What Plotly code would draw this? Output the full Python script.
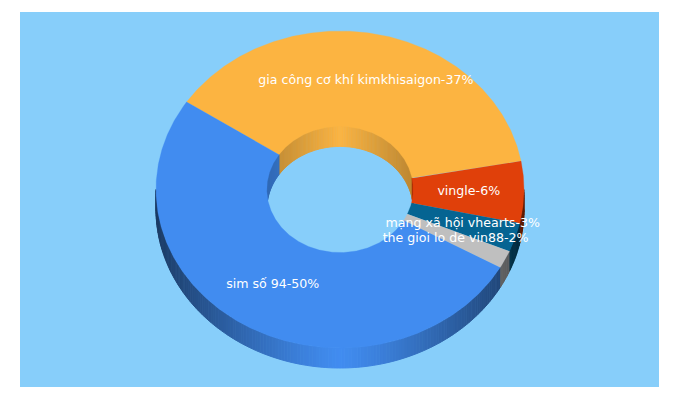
#!/usr/bin/env python3

import math

import plotly.graph_objects as go

labels = ['gia công cơ khí kimkhisaigon', 'vingle', 'mạng xã hội vhearts',
          'the gioi lo de vin88', 'sim số 94']
shares = [37.3, 6.2, 2.9, 1.8, 50.4]
shown_pct = [37, 6, 3, 2, 50]
colors = ['#FCB441', '#E0400A', '#056492', '#BFBFBF', '#418CF0']

START = -56.5
CX, CY = 340, 189.5
RX, RY = 184, 158.5
HOLE = 0.398
DEPTH = 20
STEP = 1


def point(angle, scale=1.0, drop=0):
    a = math.radians(angle)
    return (CX + RX * scale * math.sin(a),
            CY - RY * scale * math.cos(a) + drop)


def shade(color, factor):
    rgb = [int(color[i:i + 2], 16) for i in (1, 3, 5)]
    return 'rgb(%d,%d,%d)' % tuple(round(c * factor) for c in rgb)


def polygon(points, color, width=0.3):
    return go.Scatter(
        x=[p[0] for p in points],
        y=[p[1] for p in points],
        mode='lines',
        fill='toself',
        fillcolor=color,
        line={'color': color, 'width': width},
        hoverinfo='skip',
        showlegend=False,
    )


def arc(a0, a1):
    n = max(2, int(abs(a1 - a0) / 0.5))
    return [a0 + (a1 - a0) * i / n for i in range(n + 1)]


def wall_traces(a0, a1, color, lo, hi, scale, strength, power):
    '''
    Curved side of a slice, cut in thin strips to get the shading
    '''
    traces = []
    for k in (0, 360):
        start, end = max(a0, lo + k), min(a1, hi + k)
        a = start
        while a < end:
            b = min(a + STEP, end)
            t = abs(math.sin(math.radians((a + b) / 2)))
            pts = [point(x, scale) for x in arc(a, b)]
            pts += [point(x, scale, DEPTH) for x in arc(b, a)]
            traces.append(polygon(pts, shade(color, 1 - strength * t ** power),
                                  width=1))
            a = b
    return traces


def main():
    total = sum(shares)
    fig = go.Figure()
    tops = []
    texts = []
    a0 = START

    for name, share, pct, color in zip(labels, shares, shown_pct, colors):
        a1 = a0 + 360 * share / total

        # outer wall shows on the front half, inner wall on the back half
        for trace in wall_traces(a0, a1, color, 90, 270, 1.0, 0.58, 1.2):
            fig.add_trace(trace)
        for trace in wall_traces(a0, a1, color, -90, 90, HOLE, 0.25, 1.0):
            fig.add_trace(trace)

        pts = [point(x) for x in arc(a0, a1)]
        pts += [point(x, HOLE) for x in arc(a1, a0)]
        tops.append(polygon(pts, color))

        x, y = point((a0 + a1) / 2, 0.7)
        texts.append((x, y + 0.5, f'{name}-{pct}%'))
        a0 = a1

    for trace in tops:
        fig.add_trace(trace)

    fig.add_trace(go.Scatter(
        x=[t[0] for t in texts],
        y=[t[1] for t in texts],
        text=[t[2] for t in texts],
        mode='text',
        textposition='middle center',
        textfont={'family': 'DejaVu Sans', 'size': 12.6, 'color': '#ffffff'},
        hoverinfo='skip',
        showlegend=False,
    ))

    fig.update_layout(
        width=680,
        height=400,
        margin={'l': 20, 'r': 21, 't': 12, 'b': 13},
        paper_bgcolor='#ffffff',
        plot_bgcolor='#87CEFA',
        showlegend=False,
        xaxis={'range': [20, 659], 'visible': False, 'fixedrange': True},
        yaxis={'range': [387, 12], 'visible': False, 'fixedrange': True},
    )
    # the browser's default body margin would shift the whole picture
    fig.write_html('out.html', config={'displayModeBar': False},
                   post_script="document.body.style.margin='0';")


if __name__ == '__main__':
    main()
